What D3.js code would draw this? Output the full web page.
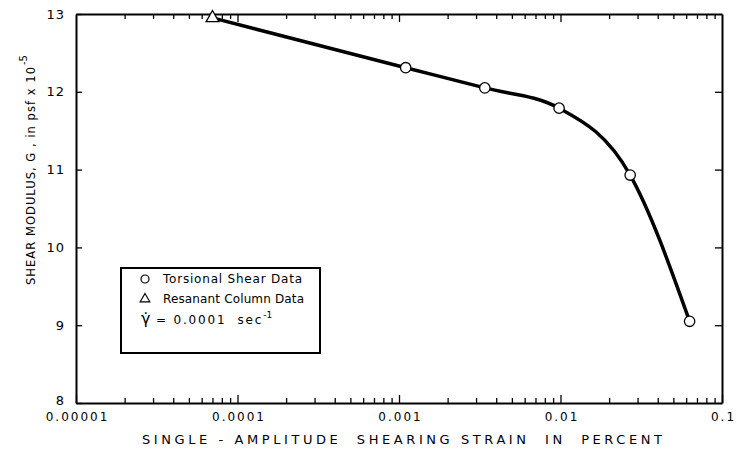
<!DOCTYPE html>
<html>
<head>
<meta charset="utf-8">
<script src="https://cdnjs.cloudflare.com/ajax/libs/d3/7.8.5/d3.min.js"></script>
<style>
  body { margin: 0; background: #fff; }
  svg { display: block; font-family: "DejaVu Sans", sans-serif; }
  .axis path { stroke: #000; stroke-width: 2; }
  .axis line { stroke: #000; stroke-width: 1.3; }
  .axis text { fill: #000; font-family: "DejaVu Sans", sans-serif; }
</style>
</head>
<body>
<div id="chart"></div>
<script>
// data
var strain  = [0.00007, 0.0011, 0.0034, 0.0098, 0.027, 0.063];
var modulus = [12.95, 12.31, 12.05, 11.79, 10.93, 9.05];
var source  = ["rc", "ts", "ts", "ts", "ts", "ts"];

var xTicks = [0.00001, 0.0001, 0.001, 0.01, 0.1];
var xTickLabels = ["0.00001", "0.0001", "0.001", "0.01", "0.1"];
var yTicks = [8, 9, 10, 11, 12, 13];

var legendLabels = ["Torsional Shear Data", "Resanant Column Data"];

var width = 737,
    height = 466;

var svg = d3.select("#chart").append("svg")
    .attr("width", width)
    .attr("height", height);

var x = d3.scaleLog().domain([1e-5, 0.1]).range([76, 722]);
var y = d3.scaleLinear().domain([8, 13]).range([403, 14]);

// minor ticks 2..9 in every decade
var minor = [];
xTicks.slice(0, -1).forEach(function(d) {
    for (var k = 2; k < 10; k++) minor.push(d * k);
});

// bottom axis, ticks pointing in
svg.append("g")
    .attr("class", "axis")
    .attr("transform", "translate(0," + y(8) + ")")
    .call(d3.axisBottom(x).tickValues(minor).tickSize(-5).tickFormat(""))
    .select(".domain").remove();

svg.append("g")
    .attr("class", "axis")
    .attr("transform", "translate(0," + y(8) + ")")
    .call(d3.axisBottom(x).tickValues(xTicks).tickSizeInner(-8).tickSizeOuter(0).tickPadding(9)
        .tickFormat(function(d, i) { return xTickLabels[i]; }))
    .selectAll("text")
    .attr("font-size", 12)
    .attr("letter-spacing", 2)
    .attr("dx", 1);

// top axis
svg.append("g")
    .attr("class", "axis")
    .attr("transform", "translate(0," + y(13) + ")")
    .call(d3.axisTop(x).tickValues(minor).tickSize(-5).tickFormat(""))
    .select(".domain").remove();

svg.append("g")
    .attr("class", "axis")
    .attr("transform", "translate(0," + y(13) + ")")
    .call(d3.axisTop(x).tickValues(xTicks.slice(1, -1)).tickSizeInner(-8).tickSizeOuter(0).tickFormat(""));

// left axis
svg.append("g")
    .attr("class", "axis")
    .attr("transform", "translate(" + x(1e-5) + ",0)")
    .call(d3.axisLeft(y).tickValues(yTicks).tickSizeInner(-6).tickSizeOuter(0).tickPadding(11)
        .tickFormat(d3.format("d")))
    .selectAll("text")
    .attr("font-size", 13)
    .attr("letter-spacing", 1)
    .attr("dy", function(d) { return d == 8 ? "0.1em" : "0.32em"; });

// right axis
svg.append("g")
    .attr("class", "axis")
    .attr("transform", "translate(" + x(0.1) + ",0)")
    .call(d3.axisRight(y).tickValues(yTicks.slice(1, -1)).tickSizeInner(-7).tickSizeOuter(0).tickFormat(""));

// axis titles
svg.append("text")
    .attr("x", 142)
    .attr("y", 444)
    .attr("font-size", 13)
    .attr("textLength", 520)
    .attr("lengthAdjust", "spacing")
    .attr("xml:space", "preserve")
    .text("SINGLE - AMPLITUDE  SHEARING STRAIN  IN  PERCENT");

var yl = svg.append("text")
    .attr("transform", "translate(35,285) rotate(-90)")
    .attr("font-size", 11.5)
    .attr("xml:space", "preserve");
yl.append("tspan")
    .attr("textLength", 218)
    .attr("lengthAdjust", "spacing")
    .text("SHEAR MODULUS, G , in psf x 10");
yl.append("tspan").attr("dy", -8).attr("dx", 1).attr("font-size", 10).text("-5");

// curve
var pts = strain.map(function(d, i) { return [x(d), y(modulus[i])]; });

svg.append("path")
    .datum(pts)
    .attr("fill", "none")
    .attr("stroke", "#000")
    .attr("stroke-width", 3.5)
    .attr("d", d3.line().curve(d3.curveMonotoneX));

// markers
var tri = d3.symbol().type(d3.symbolTriangle).size(70);

svg.selectAll(".pt")
    .data(strain.map(function(d, i) { return {s: d, g: modulus[i], src: source[i]}; }))
    .enter().append("path")
    .attr("class", "pt")
    .attr("transform", function(d) { return "translate(" + x(d.s) + "," + y(d.g) + ")"; })
    .attr("d", function(d) {
        return d.src == "rc" ? tri() : d3.symbol().type(d3.symbolCircle).size(85)();
    })
    .attr("fill", "#fff")
    .attr("stroke", "#000")
    .attr("stroke-width", 1.3);

// legend
var lg = svg.append("g").attr("transform", "translate(121,268)");
lg.append("rect")
    .attr("width", 199)
    .attr("height", 85)
    .attr("fill", "#fff")
    .attr("stroke", "#000")
    .attr("stroke-width", 2);

lg.append("circle").attr("cx", 24).attr("cy", 11).attr("r", 4)
    .attr("fill", "none").attr("stroke", "#000").attr("stroke-width", 1.2);
lg.append("path").attr("transform", "translate(24,31)")
    .attr("d", d3.symbol().type(d3.symbolTriangle).size(40)())
    .attr("fill", "none").attr("stroke", "#000").attr("stroke-width", 1.2);

lg.selectAll(".lt")
    .data(legendLabels)
    .enter().append("text")
    .attr("x", 42)
    .attr("y", function(d, i) { return 15 + i * 20; })
    .attr("font-size", 12)
    .attr("textLength", function(d, i) { return i == 0 ? 139 : 141; })
    .attr("lengthAdjust", "spacing")
    .text(function(d) { return d; });

var rate = lg.append("text")
    .attr("x", 20)
    .attr("y", 56);
rate.append("tspan").attr("font-size", 16).text("\u03B3\u0307");
rate.append("tspan").attr("font-size", 12).attr("letter-spacing", 1.8)
    .attr("xml:space", "preserve").text(" = 0.0001  sec");
rate.append("tspan").attr("dy", -6).attr("font-size", 9).text("-1");
</script>
</body>
</html>
